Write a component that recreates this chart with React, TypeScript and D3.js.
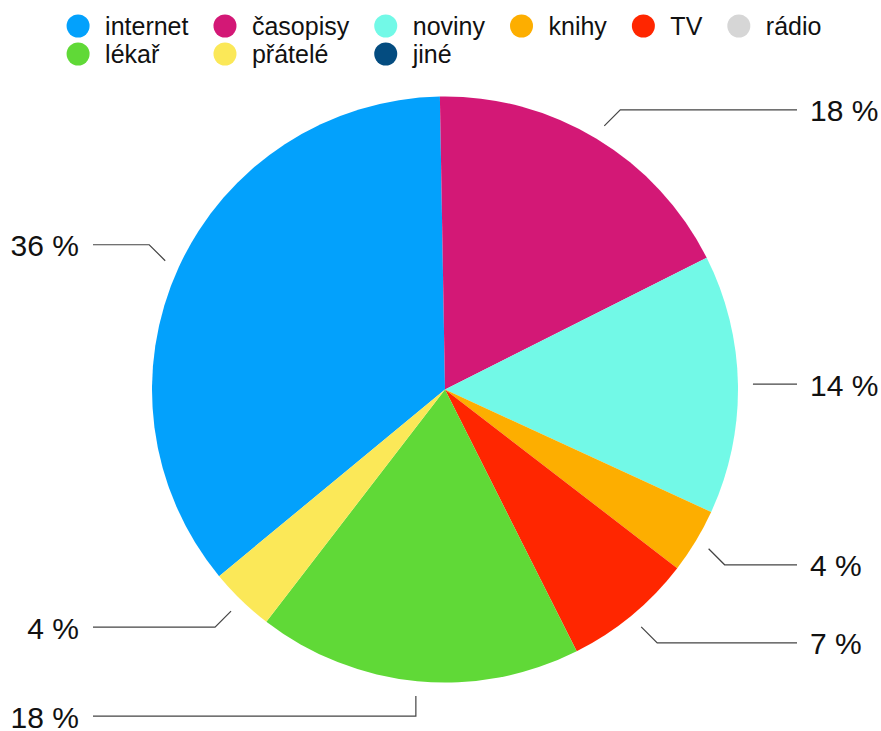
import React, { useMemo } from "react";
import * as d3 from "d3";

const categories = ["internet", "časopisy", "noviny", "knihy", "TV", "rádio", "lékař", "přátelé", "jiné"];
const counts = [10, 5, 4, 1, 2, 0, 5, 1, 0];
const colors = ["#03A1FC", "#D31876", "#72F9E7", "#FDAE00", "#FF2600", "#D6D6D6", "#60D937", "#FBE858", "#044C80"];
const pctLabels = ["36 %", "18 %", "14 %", "4 %", "7 %", "0 %", "18 %", "4 %", "0 %"];

const W = 881;
const H = 731;
const FONT = "'Liberation Sans', Arial, Helvetica, sans-serif";
const LEGEND_FS = 25;
const LABEL_FS = 30;

function measure(text: string, size: number): number {
  if (typeof document === "undefined") return text.length * size * 0.5;
  const c = document.createElement("canvas");
  const ctx = c.getContext("2d");
  if (!ctx) return text.length * size * 0.5;
  ctx.font = `${size}px ${FONT}`;
  return ctx.measureText(text).width;
}

export default function App() {
  const cx = 445;
  const cy = 389.5;
  const r = 293;
  const total = d3.sum(counts);
  const offset = (1 * Math.PI) / 180;

  const pie = d3
    .pie<number>()
    .sort(null)
    .value((d) => d)
    .startAngle(-(counts[0] / total) * 2 * Math.PI - offset)
    .endAngle(2 * Math.PI - (counts[0] / total) * 2 * Math.PI - offset);
  const arcs = pie(counts);
  const arcGen = d3.arc<d3.PieArcDatum<number>>().innerRadius(0).outerRadius(r);

  // legend layout: 6 columns, 2 rows
  const nCols = 6;
  const legend = useMemo(() => {
    const textW = categories.map((t) => measure(t, LEGEND_FS));
    const colW: number[] = [];
    for (let c = 0; c < nCols; c++) {
      let m = 0;
      for (let i = c; i < categories.length; i += nCols) m = Math.max(m, textW[i]);
      colW.push(23 + 15.5 + m + 25);
    }
    const totalW = d3.sum(colW) - 25;
    const x0 = 444 - totalW / 2;
    const colX: number[] = [];
    let acc = x0;
    for (let c = 0; c < nCols; c++) {
      colX.push(acc);
      acc += colW[c];
    }
    return categories.map((name, i) => ({
      name,
      color: colors[i],
      x: colX[i % nCols],
      y: 26 + Math.floor(i / nCols) * 28,
    }));
  }, []);

  const labels = arcs
    .map((a, i) => ({ a, i }))
    .filter(({ a }) => a.value > 0)
    .map(({ a, i }) => {
      const mid = (a.startAngle + a.endAngle) / 2;
      const s = Math.sin(mid);
      const c = Math.cos(mid);
      const sx = cx + (r + 15) * s;
      const sy = cy - (r + 15) * c;
      const vertical = Math.abs(s) < 0.3;
      let dy = 0;
      if (Math.abs(c) > 0.15) dy = (c > 0 ? -1 : 1) * (vertical ? 20 : 16);
      const ex = vertical ? sx : sx + Math.sign(s) * Math.abs(dy);
      const ey = sy + dy;
      const right = s > 0;
      const lx = right ? cx + 352 : cx - 352;
      const tx = right ? cx + 365 : cx - 366;
      return {
        key: categories[i],
        path: `M${sx},${sy}L${ex},${ey}L${lx},${ey}`,
        tx,
        ty: ey + 11.5,
        anchor: right ? "start" : "end",
        text: pctLabels[i],
      };
    });

  return (
    <svg
      width={W}
      height={H}
      style={{ position: "absolute", left: 0, top: 0, background: "#fff" }}
      fontFamily={FONT}
    >
      <g>
        {legend.map((l) => (
          <g key={l.name}>
            <circle cx={l.x + 11.5} cy={l.y} r={11.5} fill={l.color} />
            <text x={l.x + 11.5 + 27} y={l.y + 9} fontSize={LEGEND_FS} fill="#111">
              {l.name}
            </text>
          </g>
        ))}
      </g>
      <g transform={`translate(${cx},${cy})`}>
        {arcs.map((a, i) =>
          a.value > 0 ? <path key={categories[i]} d={arcGen(a) || ""} fill={colors[i]} /> : null
        )}
      </g>
      <g>
        {labels.map((l) => (
          <g key={l.key}>
            <path d={l.path} fill="none" stroke="#444" strokeWidth={1.2} />
            <text x={l.tx} y={l.ty} fontSize={LABEL_FS} fill="#111" textAnchor={l.anchor}>
              {l.text}
            </text>
          </g>
        ))}
      </g>
    </svg>
  );
}
